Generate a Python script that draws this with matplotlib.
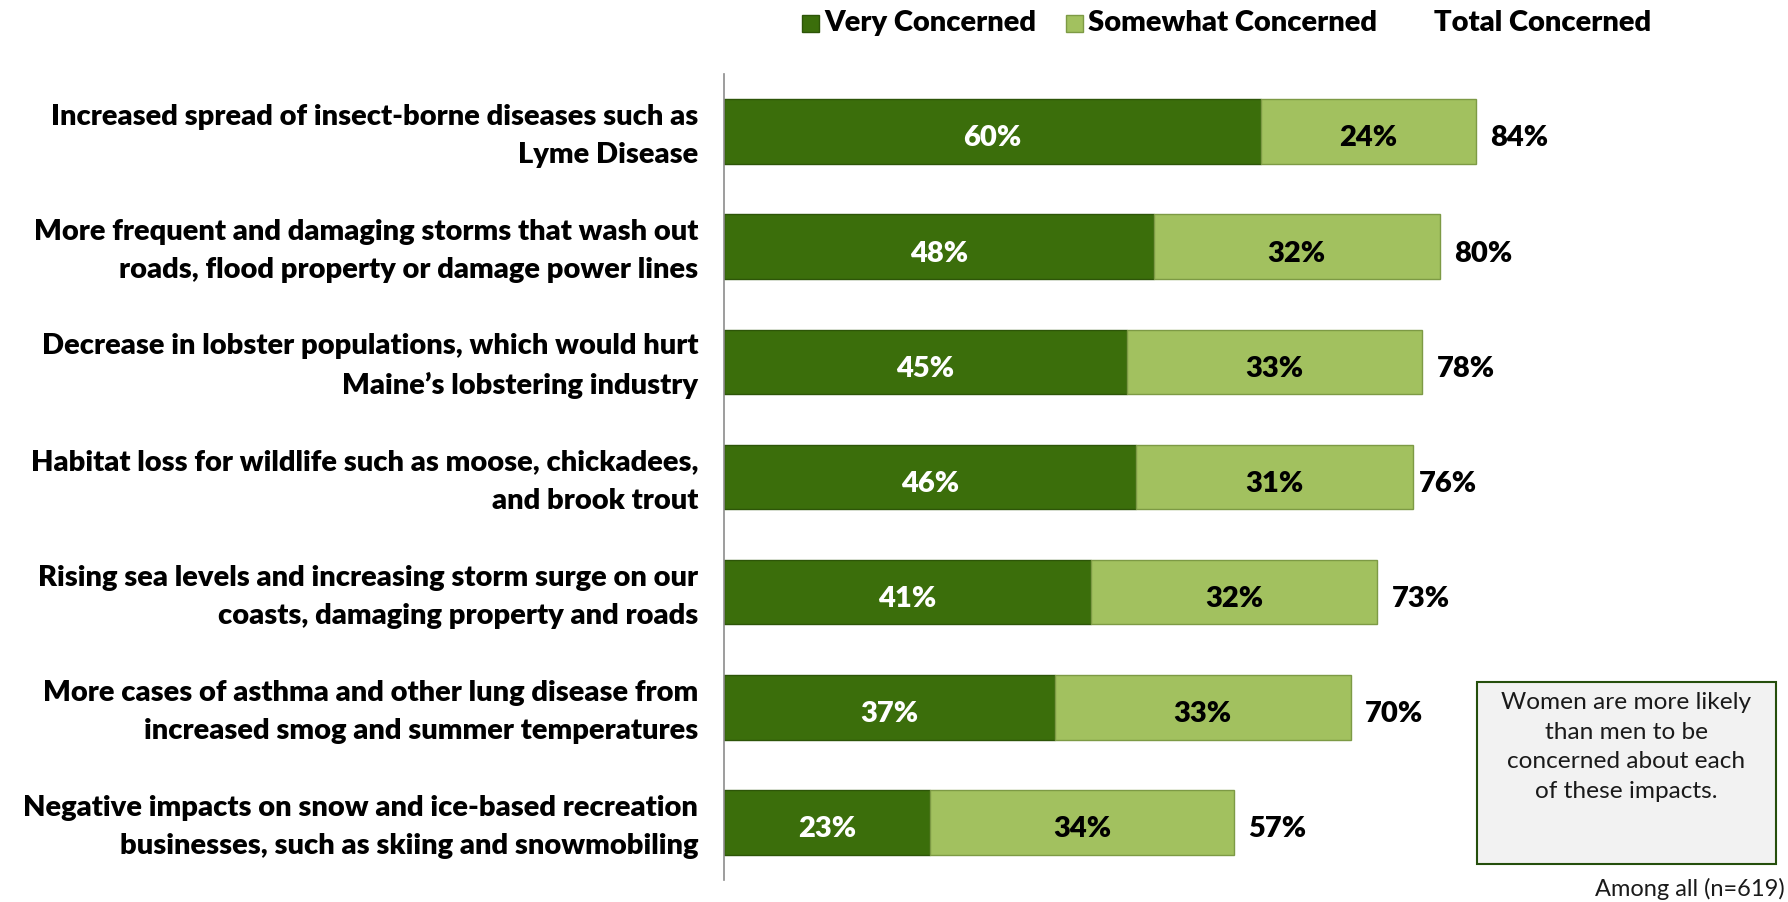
import matplotlib
matplotlib.use("Agg")
import matplotlib.pyplot as plt
from matplotlib.patches import Rectangle

plt.rcParams['font.family'] = ['Lato', 'DejaVu Sans']

categories = [
    "Increased spread of insect-borne diseases such as\nLyme Disease",
    "More frequent and damaging storms that wash out\nroads, flood property or damage power lines",
    "Decrease in lobster populations, which would hurt\nMaine\u2019s lobstering industry",
    "Habitat loss for wildlife such as moose, chickadees,\nand brook trout",
    "Rising sea levels and increasing storm surge on our\ncoasts, damaging property and roads",
    "More cases of asthma and other lung disease from\nincreased smog and summer temperatures",
    "Negative impacts on snow and ice-based recreation\nbusinesses, such as skiing and snowmobiling",
]
very = [60, 48, 45, 46, 41, 37, 23]
somewhat = [24, 32, 33, 31, 32, 33, 34]
total = [84, 80, 78, 76, 73, 70, 57]

dark = "#3b6e0b"
light = "#a2c15f"

W, H = 1788, 902
fig = plt.figure(figsize=(W / 100, H / 100), dpi=100)
ax = fig.add_axes([724 / W, 1 - 880 / H, 895 / W, 806 / H])

y = list(range(len(categories)))
ax.barh(y, very, height=0.56, color=dark, edgecolor="#2d5508", linewidth=1)
ax.barh(y, somewhat, left=very, height=0.56, color=light, edgecolor="#7d9a45", linewidth=1)

fs = 21
wt = "heavy"
for i in y:
    ax.text(very[i] / 2, i + 0.06, f"{very[i]}%", ha="center", va="center",
            color="white", fontsize=fs, fontweight=wt)
    ax.text(very[i] + somewhat[i] / 2, i + 0.06, f"{somewhat[i]}%", ha="center", va="center",
            color="black", fontsize=fs, fontweight=wt)
    ax.text(total[i] + 1.6, i + 0.06, f"{total[i]}%", ha="left", va="center",
            color="black", fontsize=fs, fontweight=wt)
    ax.text(-2.9, i + 0.04, categories[i], ha="right", va="center", color="black",
            fontsize=fs, fontweight=wt, linespacing=1.58)

ax.set_xlim(0, 100)
ax.set_ylim(6.5, -0.5)
ax.set_xticks([])
ax.set_yticks([])
for s in ["top", "right", "bottom"]:
    ax.spines[s].set_visible(False)
ax.spines["left"].set_color("#8c8c8c")
ax.spines["left"].set_linewidth(1.2)

# legend
ly = 1 - 23 / H
sq = 17
fig.patches.append(Rectangle((802 / W, ly - 9 / H), sq / W, sq / H, transform=fig.transFigure,
                             facecolor=dark, edgecolor="#2d5508", lw=1))
fig.text(824 / W, ly, "Very Concerned", ha="left", va="center", fontsize=fs, fontweight=wt)
fig.patches.append(Rectangle((1066 / W, ly - 9 / H), sq / W, sq / H, transform=fig.transFigure,
                             facecolor=light, edgecolor="#7d9a45", lw=1))
fig.text(1088 / W, ly, "Somewhat Concerned", ha="left", va="center", fontsize=fs, fontweight=wt)
fig.text(1434 / W, ly, "Total Concerned", ha="left", va="center", fontsize=fs, fontweight=wt)

# note box
bx0, by0, bx1, by1 = 1477, 682, 1776, 864
fig.patches.append(Rectangle((bx0 / W, 1 - by1 / H), (bx1 - bx0) / W, (by1 - by0) / H,
                             transform=fig.transFigure, facecolor="#f2f2f2",
                             edgecolor="#254f0c", lw=1.5))
fig.text((bx0 + bx1) / 2 / W, 1 - 747 / H,
         "Women are more likely\nthan men to be\nconcerned about each\nof these impacts.",
         ha="center", va="center", fontsize=17.6,
         linespacing=1.5, color="#1a1a1a")

fig.text(1785 / W, 1 - 889 / H, "Among all (n=619)", ha="right", va="center",
         fontsize=17, color="#1a1a1a")

fig.savefig("out.png", dpi=100, facecolor="white")
